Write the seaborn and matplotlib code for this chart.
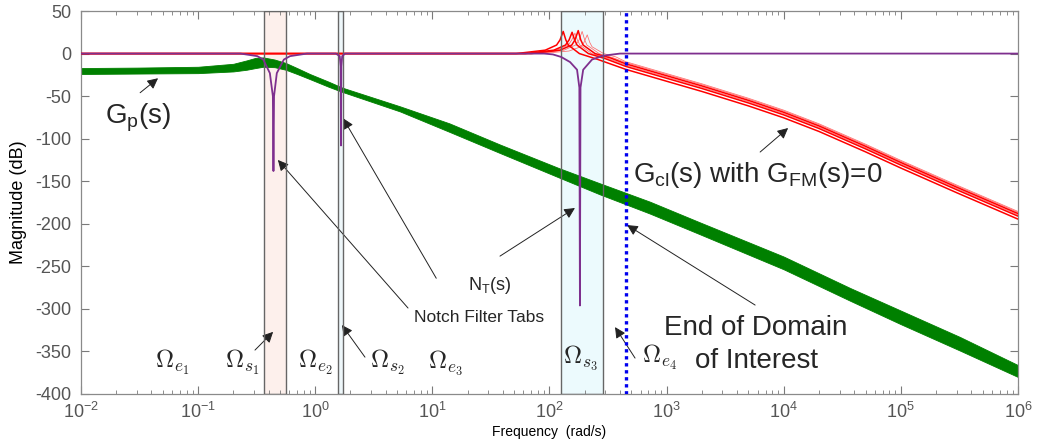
"""
Bode magnitude plot: plant band, closed-loop curves and notch filter taps.
"""
import numpy as np
import pandas as pd
import matplotlib
matplotlib.use("Agg")
import matplotlib.pyplot as plt
import seaborn as sns

# ---- data ------------------------------------------------------------------
# G_p(s): envelope of the plant family (upper / lower edge, dB)
gp_freq = [0.01, 0.03, 0.1, 0.2, 0.26, 0.31, 0.36, 0.45, 0.56, 0.7, 0.9, 1.3, 1.7,
           5.3, 14, 38, 120, 270, 720, 1900, 1e4, 3.7e4, 1e5, 3.2e5, 1e6]
gp_upper = [-17, -16.5, -15.5, -12, -8, -5, -4.5, -7, -11, -17, -24, -33, -40,
            -62, -82, -107, -134.5, -152.5, -174, -198, -238.5, -275.5, -302, -333, -366]
gp_lower = [-24, -23.5, -23, -21, -19, -17, -15.5, -16, -19, -24, -30, -39, -45,
            -68, -92, -117, -145.5, -165.5, -188, -212, -253.5, -290.5, -318, -349, -380]

# G_cl(s) with G_FM(s)=0: one curve per plant variant
red_tail_freq = [447, 1e3, 2e3, 5e3, 1e4, 2e4, 5e4, 1e5, 3e5, 1e6]
red_r1_freq = [0.01, 52, 92, 115, 123, 131, 138, 145, 180, 260] + red_tail_freq
red_r1_mag = [0, 0, 4, 10, 16, 26, 16, 10, 0, -7,
              -18.5, -32.5, -44.5, -61.5, -75.5, -91.5, -115.5, -134.5, -163.5, -194.5]
red_r2_freq = [0.01, 62, 109, 137, 147, 156, 164, 172, 215, 300] + red_tail_freq
red_r2_mag = [0, 0, 4, 10, 16, 25, 16, 10, 0, -6,
              -15, -29, -41, -58, -72, -88, -112, -131, -160, -191]
red_r3_freq = [0.01, 70, 123, 155, 165, 176, 185, 194, 245, 330] + red_tail_freq
red_r3_mag = [0, 0, 4, 10, 16, 27, 16, 10, 0, -5,
              -12, -26, -38, -55, -69, -85, -109, -128, -157, -188]
red_r4_freq = [0.01, 76, 133, 167, 179, 190, 200, 209, 265, 350] + red_tail_freq
red_r4_mag = [0, 0, 4, 10, 16, 26, 16, 10, 0, -5,
              -10.5, -24.5, -36.5, -53.5, -67.5, -83.5, -107.5, -126.5, -155.5, -186.5]
red_r5_freq = [0.01, 84, 147, 185, 197, 210, 221, 231, 290, 370] + red_tail_freq
red_r5_mag = [0, 0, 3, 8, 13, 22, 13, 8, 0, -4,
              -9.5, -23.5, -35.5, -52.5, -66.5, -82.5, -106.5, -125.5, -154.5, -185.5]
red_r6_freq = [0.01, 66, 115, 145, 155, 165, 173, 182, 230, 320] + red_tail_freq
red_r6_mag = [0, 0, 4, 10, 16, 24, 16, 10, 0, -6,
              -13.5, -27.5, -39.5, -56.5, -70.5, -86.5, -110.5, -129.5, -158.5, -189.5]

# N_T(s): notch filter taps
notch_freq = [0.01, 0.23, 0.32, 0.36, 0.41, 0.435, 0.44, 0.445, 0.47, 0.54, 0.61, 0.85,
              1.5, 1.62, 1.65, 1.66, 1.67, 1.7, 1.8,
              90, 107, 126, 150, 172, 180, 182, 184, 194, 231, 287, 400, 1e6]
notch_mag = [0, 0, -3, -7, -23, -50, -138, -50, -23, -7, -3, 0,
             0, -3, -15, -108, -15, -3, 0,
             0, -1, -4, -10, -19, -40, -296, -40, -19, -7, -2.5, 0, 0]

# stop-band regions Omega_s1..3 and end of the domain of interest (rad/s)
region_lo = [0.366, 1.556, 125]
region_hi = [0.56, 1.738, 286]
region_fill = ['#fdf0ec', '#eef7fa', '#ecfafd']
domain_end = 447

# ---- style -------------------------------------------------------------------
sns.set_style('ticks')
plt.rcParams['font.family'] = ['Liberation Sans', 'DejaVu Sans']
plt.rcParams['axes.unicode_minus'] = False

red_df = pd.concat([
    pd.DataFrame({'freq': f, 'mag': m, 'curve': name})
    for name, f, m in [('r1', red_r1_freq, red_r1_mag), ('r2', red_r2_freq, red_r2_mag),
                       ('r3', red_r3_freq, red_r3_mag), ('r4', red_r4_freq, red_r4_mag),
                       ('r5', red_r5_freq, red_r5_mag), ('r6', red_r6_freq, red_r6_mag)]
], ignore_index=True)
thick = red_df['curve'].isin(['r1', 'r2', 'r3'])
notch_df = pd.DataFrame({'freq': notch_freq, 'mag': notch_mag})

fig = plt.figure(figsize=(10.38, 4.46), dpi=100)
ax = fig.add_axes([0.078, 0.1166, 0.9027, 0.8587])
ax.set_xscale('log')

# shaded regions
for lo, hi, fc in zip(region_lo, region_hi, region_fill):
    ax.axvspan(lo, hi, facecolor=fc, edgecolor='none', zorder=0)
    ax.axvspan(lo, hi, facecolor='none', edgecolor='#666666', lw=1.0, zorder=6)

# plant band
ax.fill_between(gp_freq, gp_lower, gp_upper, color='#008000', lw=0.6, zorder=2)


def draw(layer_z, **kw):
    # seaborn line layer, then push the new lines to the wanted depth
    n = len(ax.lines)
    sns.lineplot(ax=ax, estimator=None, legend=False, **kw)
    for ln in list(ax.lines)[n:]:
        ln.set_zorder(layer_z)


# closed-loop curves
draw(3, data=red_df[~thick], x='freq', y='mag', units='curve', color='#ff6a6a', lw=0.55)
draw(3.1, data=red_df[thick], x='freq', y='mag', units='curve', color='#ff0000', lw=1.1)

# notch taps, on top of the closed-loop curves at 0 dB
draw(8, data=notch_df, x='freq', y='mag', sort=False, color='#7e2f8e', lw=1.3)

ax.axvline(domain_end, color='#0000ee', lw=2.4, ls=(0, (1, 1.1)), zorder=5)

ax.set_xlim(1e-2, 1e6)
ax.set_ylim(-400, 50)
ax.set_yticks(np.arange(-400, 51, 50))
ax.set_xticks([10.0 ** k for k in range(-2, 7)])

ax.tick_params(which='both', direction='in', top=True, right=True,
               color='#7a7a7a', labelcolor='#555555', labelsize=13)
ax.tick_params(which='major', length=6, width=0.8)
ax.tick_params(which='minor', length=3, width=0.6)
ax.tick_params(axis='y', pad=7)
ax.tick_params(axis='x', pad=6)
for s in ax.spines.values():
    s.set_color('#8a8a8a')
    s.set_linewidth(0.9)

ax.set_ylabel('Magnitude (dB)', fontsize=13, color='black')
ax.yaxis.set_label_coords(-0.058, 0.5)
ax.set_xlabel('Frequency  (rad/s)', fontsize=10, color='black')
ax.xaxis.set_label_coords(0.5, -0.08)

# ---- annotations ---------------------------------------------------------------
arrow = dict(arrowstyle='-|>', color='#222222', lw=0.7, mutation_scale=16,
             shrinkA=0, shrinkB=0)
big = 20

ax.text(0.016, -82, r'G$_\mathregular{p}$(s)', fontsize=big)
ax.annotate('', xy=(0.0455, -29), xytext=(0.032, -46), arrowprops=arrow)

ax.text(31, -278, r'N$_\mathregular{T}$(s)', fontsize=13, ha='center')
ax.text(25, -315.5, 'Notch Filter Tabs', fontsize=12.5, ha='center')
ax.annotate('', xy=(0.48, -125), xytext=(6.2, -299), arrowprops=arrow)
ax.annotate('', xy=(1.73, -76), xytext=(10.8, -264), arrowprops=arrow)
ax.annotate('', xy=(165, -181.5), xytext=(37.8, -238), arrowprops=arrow)

ax.text(518, -151, r'G$_\mathregular{cl}$(s) with G$_\mathregular{FM}$(s)=0', fontsize=big)
ax.annotate('', xy=(1.09e4, -87.5), xytext=(6.29e3, -115.7), arrowprops=arrow)

ax.text(5.8e3, -331, 'End of Domain', fontsize=big, ha='center')
ax.text(5.8e3, -369.5, 'of Interest', fontsize=big, ha='center')
ax.annotate('', xy=(460, -201.5), xytext=(5.7e3, -295.5), arrowprops=arrow)

omega = [(r'$\Omega_{e_1}$', 0.0429, -369.5), (r'$\Omega_{s_1}$', 0.17, -369.5),
         (r'$\Omega_{e_2}$', 0.713, -369.5), (r'$\Omega_{s_2}$', 2.94, -369.5),
         (r'$\Omega_{e_3}$', 9.19, -369.5), (r'$\Omega_{s_3}$', 130.6, -363.7),
         (r'$\Omega_{e_4}$', 618, -363.7)]
for label, fx, fy in omega:
    ax.text(fx, fy, label, fontsize=18, math_fontfamily='cm')
ax.annotate('', xy=(0.437, -327), xytext=(0.306, -348.4), arrowprops=arrow)
ax.annotate('', xy=(1.69, -319), xytext=(2.66, -356.7), arrowprops=arrow)
ax.annotate('', xy=(363, -321.4), xytext=(538, -357.8), arrowprops=arrow)

fig.savefig('out.png', dpi=100)
